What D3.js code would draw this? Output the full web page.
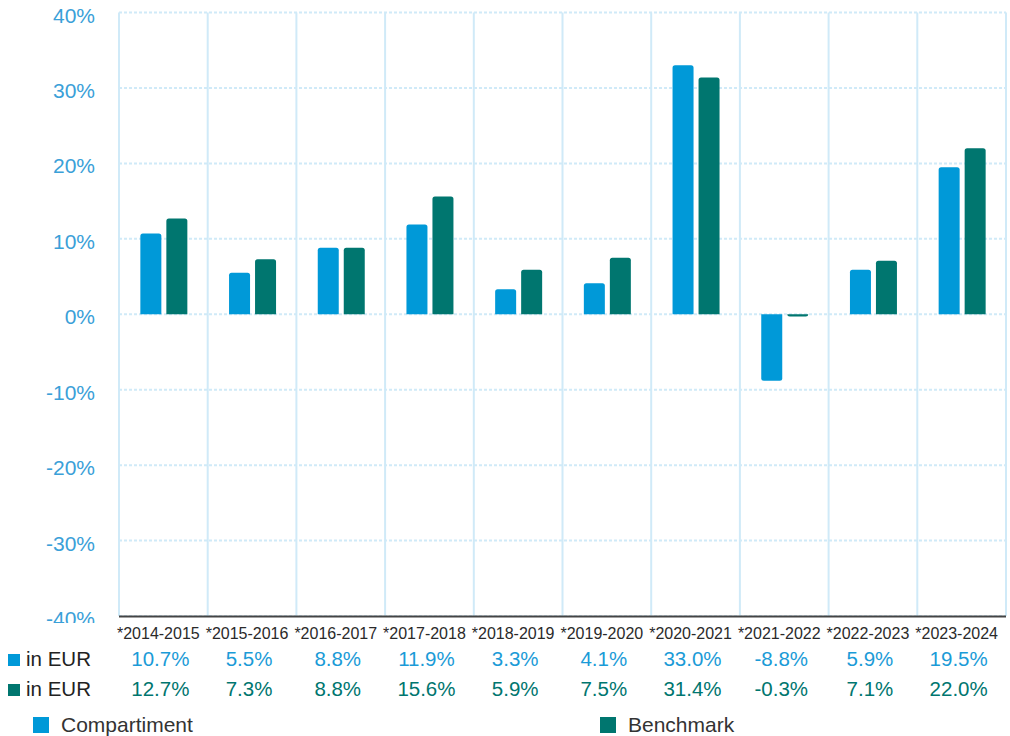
<!DOCTYPE html>
<html>
<head>
<meta charset="utf-8">
<script src="https://cdn.jsdelivr.net/npm/d3@7"></script>
<style>
  body { margin: 0; background: #fff; }
  text { font-family: "Liberation Sans", Arial, sans-serif; }
</style>
</head>
<body>
<script>
// chart data
const periods = ['*2014-2015', '*2015-2016', '*2016-2017', '*2017-2018', '*2018-2019',
                 '*2019-2020', '*2020-2021', '*2021-2022', '*2022-2023', '*2023-2024'];
const compartiment = [10.7, 5.5, 8.8, 11.9, 3.3, 4.1, 33.0, -8.8, 5.9, 19.5];
const benchmark = [12.7, 7.3, 8.8, 15.6, 5.9, 7.5, 31.4, -0.3, 7.1, 22.0];
const yTicks = [40, 30, 20, 10, 0, -10, -20, -30, -40];
const seriesNames = ['Compartiment', 'Benchmark'];
const rowLabel = 'in EUR';

const blue = '#0099d8';
const teal = '#00766f';
const gridColor = '#d0eaf8';

const svg = d3.select('body').append('svg')
    .attr('width', 1010)
    .attr('height', 736);

const x = d3.scaleBand()
    .domain(periods)
    .range([119, 1006]);

const y = d3.scaleLinear()
    .domain([-40, 40])
    .range([616, 12.5]);

// vertical grid lines at band edges
const edges = periods.map(p => x(p)).concat([x.range()[1]]);
svg.selectAll('.vgrid')
    .data(edges)
    .enter()
    .append('line')
    .attr('x1', d => d)
    .attr('x2', d => d)
    .attr('y1', y(40))
    .attr('y2', y(-40))
    .attr('stroke', gridColor)
    .attr('stroke-width', 2);

// horizontal dotted grid lines
svg.selectAll('.hgrid')
    .data(yTicks)
    .enter()
    .append('line')
    .attr('x1', 119)
    .attr('x2', 1006)
    .attr('y1', d => y(d))
    .attr('y2', d => y(d))
    .attr('stroke', gridColor)
    .attr('stroke-width', 2)
    .attr('stroke-dasharray', '3,2');

// y tick labels, clipped at the bottom like the original
svg.append('clipPath').attr('id', 'yclip')
    .append('rect').attr('x', 0).attr('y', 0).attr('width', 118).attr('height', 623);

svg.append('g').attr('clip-path', 'url(#yclip)')
    .selectAll('text')
    .data(yTicks)
    .enter()
    .append('text')
    .attr('x', 95)
    .attr('y', d => y(d) + 10)
    .attr('text-anchor', 'end')
    .attr('font-size', 21)
    .attr('fill', '#3aa0d8')
    .text(d => d + '%');

// bars (top corners rounded)
const barW = 21, gap = 5;
function barPath(x0, v) {
    const w = barW, r = 2.5;
    const y0 = y(0), y1 = y(v);
    if (v >= 0) {
        return `M${x0},${y0} V${y1 + r} Q${x0},${y1} ${x0 + r},${y1} H${x0 + w - r} Q${x0 + w},${y1} ${x0 + w},${y1 + r} V${y0} Z`;
    }
    return `M${x0},${y0} V${y1 - r} Q${x0},${y1} ${x0 + r},${y1} H${x0 + w - r} Q${x0 + w},${y1} ${x0 + w},${y1 - r} V${y0} Z`;
}

const groups = [
    { values: compartiment, color: blue, offset: -(barW + gap / 2) },
    { values: benchmark, color: teal, offset: gap / 2 }
];

groups.forEach(g => {
    svg.selectAll(null)
        .data(periods)
        .enter()
        .append('path')
        .attr('d', (d, i) => barPath(x(d) + x.bandwidth() / 2 + 0.5 + g.offset, g.values[i]))
        .attr('fill', g.color);
});

// x axis line
svg.append('line')
    .attr('x1', 119)
    .attr('x2', 1006)
    .attr('y1', y(-40) + 0.5)
    .attr('y2', y(-40) + 0.5)
    .attr('stroke', '#444')
    .attr('stroke-width', 2);

// category labels
svg.selectAll('.cat')
    .data(periods)
    .enter()
    .append('text')
    .attr('x', d => x(d) + x.bandwidth() / 2 - 5)
    .attr('y', 639)
    .attr('text-anchor', 'middle')
    .attr('font-size', 16)
    .attr('fill', '#2a2a2a')
    .text(d => d);

// value rows
const rows = [
    { values: compartiment, color: blue, textColor: '#1b9bd7', base: 666 },
    { values: benchmark, color: teal, textColor: '#00766f', base: 696 }
];

rows.forEach(r => {
    svg.append('rect')
        .attr('x', 8).attr('y', r.base - 12)
        .attr('width', 12).attr('height', 12)
        .attr('fill', r.color);
    svg.append('text')
        .attr('x', 26).attr('y', r.base)
        .attr('font-size', 20.5)
        .attr('fill', '#222')
        .text(rowLabel);
    svg.selectAll(null)
        .data(periods)
        .enter()
        .append('text')
        .attr('x', (d, i) => x(d) + x.bandwidth() / 2 - 3)
        .attr('y', r.base)
        .attr('text-anchor', 'middle')
        .attr('font-size', 20.5)
        .attr('fill', r.textColor)
        .text((d, i) => r.values[i].toFixed(1) + '%');
});

// legend
const legendX = [33, 600];
seriesNames.forEach((name, i) => {
    svg.append('rect')
        .attr('x', legendX[i]).attr('y', 717)
        .attr('width', 16).attr('height', 16)
        .attr('fill', i === 0 ? blue : teal);
    svg.append('text')
        .attr('x', legendX[i] + 28).attr('y', 732)
        .attr('font-size', 21)
        .attr('fill', '#333')
        .text(name);
});
</script>
</body>
</html>
